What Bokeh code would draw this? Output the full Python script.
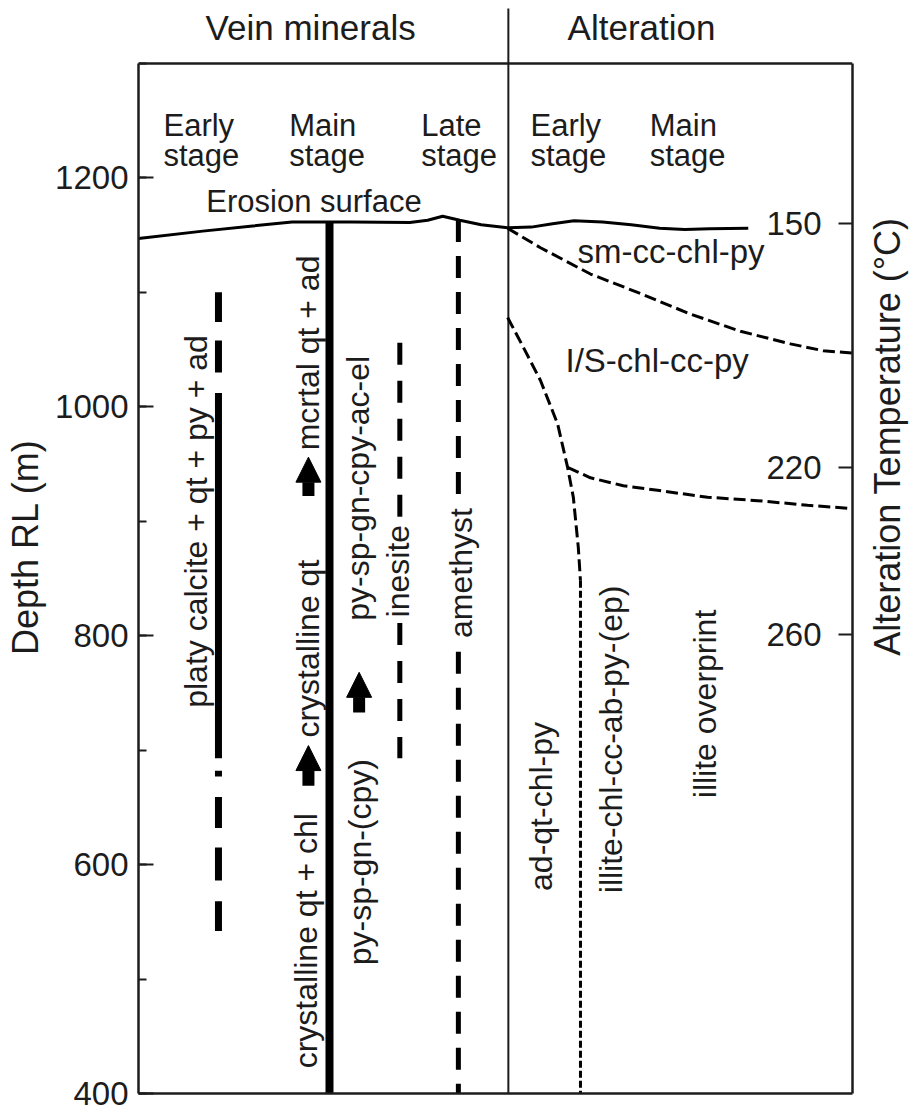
import math
import numpy as np
from bokeh.plotting import figure
from bokeh.layouts import row
from bokeh.models import (Range1d, LinearAxis, FixedTicker, SingleIntervalTicker,
                          ColumnDataSource, Arrow, NormalHead)
from bokeh.core.properties import value
from bokeh.embed import file_html
from bokeh.resources import INLINE

FONT = "Liberation Sans"
INK = "#1c1c1c"

# ---------------- data (depth RL in m; x = relative section position 0-100) ----------------
depth_min, depth_max = 400, 1355
section_top = 1300

erosion_x = [0, 9, 16, 21.5, 30, 38, 40.5, 42.6, 45, 48, 51.7, 55, 58, 61, 65, 69, 73, 76.5, 80, 85.4]
erosion_depth = [1147, 1153.5, 1158, 1161.5, 1161.5, 1161, 1163, 1166.5, 1163, 1159, 1156.5,
                 1157, 1160, 1162.5, 1161.5, 1159, 1156, 1155, 1155.5, 1156]

# vein mineral ranges (depth intervals)
calcite_top = [1100, 1058, 1012, 682, 659, 615, 568]
calcite_bottom = [1074, 1030, 693, 677, 632, 586, 542]
main_stage_bottom = 400
inesite_top = [1056, 811]
inesite_bottom = [900, 693]
amethyst_gap = [920, 786]
amethyst_bottom = 400

# alteration boundaries
bound_a_x = [51.7, 56.3, 63.3, 70.3, 77.3, 84.3, 91.3, 95.9, 100]
bound_a_d = [1156, 1139, 1116, 1099, 1081, 1066, 1055, 1049, 1047]
bound_b_x = [51.7, 53.9, 56.3, 58.7, 60.1, 60.9, 61.6, 61.9]
bound_b_d = [1078, 1052, 1023, 985, 947, 921, 877, 848]
bound_b_low_x = [61.9, 61.9]
bound_b_low_d = [848, 400]
bound_c_x = [60.1, 63.3, 67.9, 72.7, 79.7, 86.7, 93.7, 100]
bound_c_d = [947, 938, 931, 927, 921, 918, 914, 911]

# alteration temperature scale
temp_labels = ["150", "220", "260"]
temp_depth = [1160, 947, 801]

# vertical labels
vert_text = ["platy calcite + qt + py + ad", "crystalline qt + chl", "crystalline qt",
             "mcrtal qt + ad", "py-sp-gn-(cpy)", "py-sp-gn-cpy-ac-el", "inesite", "amethyst",
             "ad-qt-chl-py", "illite-chl-cc-ab-py-(ep)", "illite overprint"]
vert_x = [8.1, 23.4, 23.7, 23.8, 31.0, 30.8, 36.3, 45.1, 56.4, 66.2, 79.4]
vert_depth = [737, 422, 711, 962, 512, 813, 816, 798, 577, 575, 658]

# arrows (x, base depth, tip depth)
arrow_x = [23.8, 23.8, 30.9]
arrow_base = [922, 669, 733]
arrow_tip = [956, 704, 768]

stage_top_words = ["Early", "Main", "Late", "Early", "Main"]
stage_bottom_words = ["stage", "stage", "stage", "stage", "stage"]
stage_x = [3.5, 21.1, 39.6, 54.9, 71.6]

calcite_x = 11.2
main_x = 26.75
inesite_x = 36.6
amethyst_x = 44.8
divider_x = 51.8

# ---------------- main figure ----------------
p = figure(width=855, height=1112, x_range=Range1d(0, 100), y_range=Range1d(depth_min, depth_max),
           output_backend="svg", toolbar_location=None,
           min_border_left=138, min_border_right=3, min_border_top=0, min_border_bottom=19)
p.outline_line_color = None
p.grid.visible = False
p.background_fill_color = "white"
p.border_fill_color = "white"

# bottom axis (frame line only)
xa = p.xaxis[0]
xa.ticker = FixedTicker(ticks=[])
xa.major_tick_line_color = None
xa.minor_tick_line_color = None
xa.axis_line_width = 2.5
xa.axis_line_color = INK

# left depth axis
ya = p.yaxis[0]
ya.ticker = SingleIntervalTicker(interval=200, num_minor_ticks=2)
ya.bounds = (400, section_top)
ya.major_tick_in = 15
ya.major_tick_out = 0
ya.minor_tick_in = 8
ya.minor_tick_out = 0
ya.major_tick_line_width = 2
ya.minor_tick_line_width = 2
ya.major_tick_line_color = INK
ya.minor_tick_line_color = INK
ya.axis_line_width = 2.5
ya.axis_line_color = INK
ya.major_label_text_font = FONT
ya.major_label_text_font_size = "33px"
ya.major_label_text_color = INK
ya.major_label_standoff = 10
ya.axis_label = "Depth RL (m)"
ya.axis_label_text_font = FONT
ya.axis_label_text_font_size = "36px"
ya.axis_label_text_font_style = "normal"
ya.axis_label_text_color = INK
ya.axis_label_standoff = 6

# right temperature axis: labels sit inside the frame, next to inward ticks
ra = LinearAxis(ticker=FixedTicker(ticks=temp_depth, minor_ticks=[]), bounds=(400, section_top),
                major_tick_in=14, major_tick_out=0, major_tick_line_width=2, major_tick_line_color=INK,
                minor_tick_line_color=None, axis_line_width=2.5, axis_line_color=INK,
                major_label_overrides={d: t for d, t in zip(temp_depth, temp_labels)},
                major_label_text_font=FONT, major_label_text_font_size="33px",
                major_label_text_color=INK, major_label_standoff=-86)
p.add_layout(ra, "right")

# top frame line and divider
p.segment(x0=[0], y0=[section_top], x1=[100], y1=[section_top], line_width=2.5, line_color=INK)
p.segment(x0=[divider_x], y0=[400], x1=[divider_x], y1=[1348], line_width=2, line_color=INK)

# erosion surface
p.line(erosion_x, erosion_depth, line_width=3, line_color="black")

# vein mineral ranges
p.segment(x0=[calcite_x] * len(calcite_top), y0=calcite_top, x1=[calcite_x] * len(calcite_top),
          y1=calcite_bottom, line_width=7, line_color="black")
main_top = float(np.interp(main_x, erosion_x, erosion_depth))
p.segment(x0=[main_x], y0=[main_top], x1=[main_x], y1=[main_stage_bottom], line_width=8, line_color="black")
p.segment(x0=[inesite_x] * 2, y0=inesite_top, x1=[inesite_x] * 2, y1=inesite_bottom,
          line_width=5, line_color="black", line_dash="22 16")
am_top = float(np.interp(amethyst_x, erosion_x, erosion_depth))
p.segment(x0=[amethyst_x] * 2, y0=[am_top, amethyst_gap[1]], x1=[amethyst_x] * 2,
          y1=[amethyst_gap[0], amethyst_bottom], line_width=5, line_color="black", line_dash="22 14")

# alteration boundaries
p.line(bound_a_x, bound_a_d, line_width=3, line_color="black", line_dash="12 5")
p.line(bound_b_x, bound_b_d, line_width=3, line_color="black", line_dash="12 5")
p.line(bound_c_x, bound_c_d, line_width=3, line_color="black", line_dash="12 5")
p.line(bound_b_low_x, bound_b_low_d, line_width=3, line_color="black", line_dash="7 3")

# arrows
asrc = ColumnDataSource(dict(x=arrow_x, y0=arrow_base, y1=arrow_tip))
p.add_layout(Arrow(source=asrc, x_start="x", y_start="y0", x_end="x", y_end="y1",
                   line_width=12, line_color="black",
                   end=NormalHead(size=25, fill_color="black", line_color="black", line_width=1)))

# vertical labels
vsrc = ColumnDataSource(dict(x=vert_x, y=vert_depth, t=vert_text))
p.text(x="x", y="y", text="t", source=vsrc, angle=math.pi / 2, text_font=value(FONT),
       text_font_size=value("32px"), text_align="left", text_baseline="middle", text_color=INK)

# stage headings
ssrc = ColumnDataSource(dict(x=stage_x, top=stage_top_words, bot=stage_bottom_words))
p.text(x="x", y=1246, text="top", source=ssrc, text_font=value(FONT), text_font_size=value("31px"),
       text_align="left", text_baseline="middle", text_color=INK)
p.text(x="x", y=1219.5, text="bot", source=ssrc, text_font=value(FONT), text_font_size=value("31px"),
       text_align="left", text_baseline="middle", text_color=INK)

# section titles and other horizontal labels
hsrc = ColumnDataSource(dict(
    x=[9.4, 60.1, 9.5, 61.5, 59.8],
    y=[1331, 1331, 1179.5, 1135.5, 1040.5],
    t=["Vein minerals", "Alteration", "Erosion surface", "sm-cc-chl-py", "I/S-chl-cc-py"],
    s=["35px", "35px", "31px", "33px", "33px"]))
p.text(x="x", y="y", text="t", source=hsrc, text_font=value(FONT), text_font_size="s",
       text_align="left", text_baseline="middle", text_color=INK)

# ---------------- narrow strip for the right-hand axis title ----------------
p2 = figure(width=57, height=1112, x_range=Range1d(0, 1), y_range=p.y_range,
            output_backend="svg", toolbar_location=None,
            x_axis_location=None, y_axis_location=None,
            min_border_left=0, min_border_right=0, min_border_top=0, min_border_bottom=19)
p2.outline_line_color = None
p2.grid.visible = False
p2.background_fill_color = "white"
p2.border_fill_color = "white"
p2.text(x=[0.56], y=[974], text=["Alteration Temperature (°C)"], angle=math.pi / 2,
        text_font=value(FONT), text_font_size=value("36px"), text_align="center",
        text_baseline="middle", text_color=INK)

layout = row(p, p2, spacing=0)
open("out.html", "w").write(file_html(layout, INLINE))
